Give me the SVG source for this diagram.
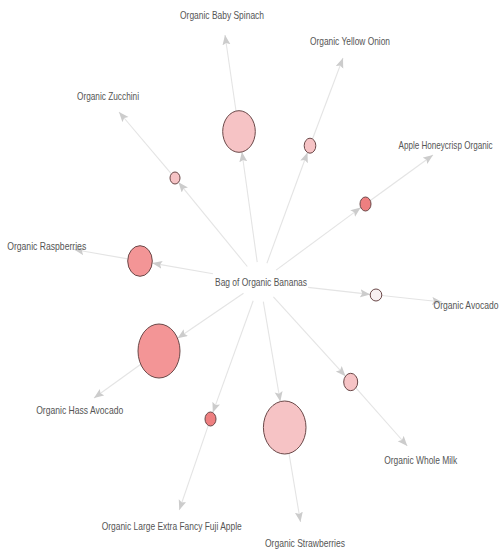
<svg xmlns="http://www.w3.org/2000/svg" width="501" height="550" viewBox="0 0 501 550">
<defs>
<style>
.e{stroke:#e4e4e4;stroke-width:1.1;fill:none;marker-end:url(#ah)}
.t{font-family:"Liberation Sans",Arial,sans-serif;font-size:11px;fill:#555555;text-anchor:middle}
.n{stroke:#6a4848;stroke-width:1}
.c1{fill:#f6c3c5}
.c2{fill:#f39596}
.c3{fill:#ee7f80}
.c4{fill:#f8f0f2}
</style>
<marker id="ah" markerUnits="userSpaceOnUse" markerWidth="12" markerHeight="10" refX="10" refY="4" orient="auto">
<path d="M0,0 L10,4 L0,8 L2,4 Z" fill="#cccccc"/>
</marker>
</defs>
<rect width="501" height="550" fill="#ffffff"/>
<g id="connectors">
<line class="e" x1="257.2" y1="262.2" x2="241.9" y2="152"/>
<line class="e" x1="236" y1="111" x2="225" y2="35"/>
<line class="e" x1="266.9" y1="263.2" x2="307.5" y2="152.5"/>
<line class="e" x1="312.5" y1="139" x2="343" y2="58"/>
<line class="e" x1="276.1" y1="270.1" x2="360.7" y2="207.6"/>
<line class="e" x1="370.4" y1="200.5" x2="433" y2="155"/>
<line class="e" x1="247.3" y1="266.5" x2="178.5" y2="182.3"/>
<line class="e" x1="171.4" y1="173.8" x2="119" y2="112"/>
<line class="e" x1="213" y1="273.8" x2="152.2" y2="263.1"/>
<line class="e" x1="127.8" y1="258.9" x2="74" y2="249.5"/>
<line class="e" x1="308" y1="287.4" x2="370.2" y2="294.4"/>
<line class="e" x1="381.8" y1="295.5" x2="442" y2="302"/>
<line class="e" x1="243.5" y1="293.3" x2="177.6" y2="338.3"/>
<line class="e" x1="140.8" y1="364.2" x2="94" y2="398"/>
<line class="e" x1="253.2" y1="300.8" x2="212.8" y2="412.6"/>
<line class="e" x1="208.3" y1="425.4" x2="179.3" y2="510"/>
<line class="e" x1="263.3" y1="301.7" x2="280.3" y2="401.6"/>
<line class="e" x1="289" y1="453.4" x2="300.5" y2="522"/>
<line class="e" x1="273.4" y1="296.8" x2="345.5" y2="376.2"/>
<line class="e" x1="355.9" y1="387.8" x2="407.3" y2="446"/>
</g>
<g id="rule-spinach"><ellipse class="n c1" cx="239" cy="131.5" rx="16.3" ry="20.8"/></g>
<g id="rule-onion"><ellipse class="n c1" cx="310" cy="145.7" rx="5.8" ry="7.5"/></g>
<g id="rule-honeycrisp"><ellipse class="n c3" cx="365.5" cy="204" rx="5.5" ry="7"/></g>
<g id="rule-zucchini"><ellipse class="n c1" cx="175" cy="178" rx="5" ry="6"/></g>
<g id="rule-raspberries"><ellipse class="n c2" cx="140" cy="261" rx="12.3" ry="15.3"/></g>
<g id="rule-avocado"><ellipse class="n c4" cx="376" cy="295" rx="5.8" ry="6"/></g>
<g id="rule-hass"><ellipse class="n c2" cx="159" cy="351" rx="21" ry="27"/></g>
<g id="rule-fuji"><ellipse class="n c3" cx="210.5" cy="419" rx="5.5" ry="7"/></g>
<g id="rule-strawberries"><ellipse class="n c1" cx="284.7" cy="427.5" rx="21.3" ry="26.5"/></g>
<g id="rule-milk"><ellipse class="n c1" cx="350.7" cy="382" rx="7" ry="8.7"/></g>
<g id="item-bananas"><text class="t" x="261" y="285.5" textLength="92" lengthAdjust="spacingAndGlyphs">Bag of Organic Bananas</text></g>
<g id="item-spinach"><text class="t" x="222" y="19" textLength="84" lengthAdjust="spacingAndGlyphs">Organic Baby Spinach</text></g>
<g id="item-onion"><text class="t" x="350" y="45" textLength="80" lengthAdjust="spacingAndGlyphs">Organic Yellow Onion</text></g>
<g id="item-honeycrisp"><text class="t" x="445.5" y="149" textLength="94" lengthAdjust="spacingAndGlyphs">Apple Honeycrisp Organic</text></g>
<g id="item-zucchini"><text class="t" x="108" y="100" textLength="62" lengthAdjust="spacingAndGlyphs">Organic Zucchini</text></g>
<g id="item-raspberries"><text class="t" x="46.7" y="250" textLength="79" lengthAdjust="spacingAndGlyphs">Organic Raspberries</text></g>
<g id="item-avocado"><text class="t" x="466" y="309" textLength="65" lengthAdjust="spacingAndGlyphs">Organic Avocado</text></g>
<g id="item-hass"><text class="t" x="79.7" y="414" textLength="87" lengthAdjust="spacingAndGlyphs">Organic Hass Avocado</text></g>
<g id="item-fuji"><text class="t" x="171.7" y="530" textLength="140" lengthAdjust="spacingAndGlyphs">Organic Large Extra Fancy Fuji Apple</text></g>
<g id="item-strawberries"><text class="t" x="305" y="547" textLength="80" lengthAdjust="spacingAndGlyphs">Organic Strawberries</text></g>
<g id="item-milk"><text class="t" x="420.7" y="464" textLength="73" lengthAdjust="spacingAndGlyphs">Organic Whole Milk</text></g>
</svg>
